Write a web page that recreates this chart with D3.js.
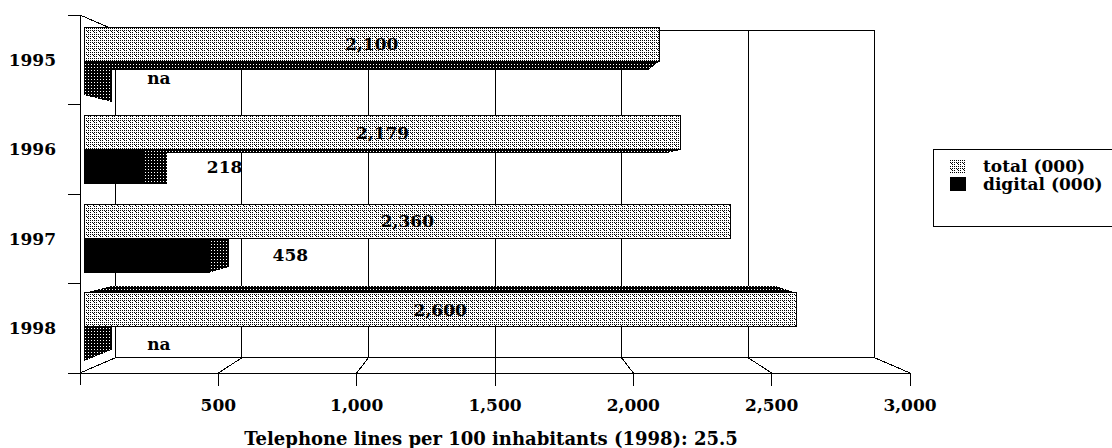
<!DOCTYPE html>
<html><head><meta charset="utf-8">
<script src="https://cdn.jsdelivr.net/npm/d3@7"></script>
<style>
body{margin:0;background:#fff}
svg{display:block}
text{font-family:"DejaVu Serif",serif;font-weight:bold;fill:#000}
</style>
</head><body><svg id="c" width="1112" height="448"></svg>
<script>
const categories = ["1995","1996","1997","1998"];
const totalValues = [2100,2179,2360,2600];
const digitalValues = [null,218,458,null];
const seriesNames = ["total (000)","digital (000)"];
const tickValues = [500,1000,1500,2000,2500,3000];
const tickLabels = ["500","1,000","1,500","2,000","2,500","3,000"];
const axisTitle = "Telephone lines per 100 inhabitants (1998): 25.5";
const naLabel = "na";

const svg = d3.select("#c");
const fmt = d3.format(",");
const FS = 17;
const x = d3.scaleLinear().domain([0,3000]).range([80,910]);
const y = d3.scaleBand().domain(categories).range([15,373]);
const inner = d3.scaleBand().domain(["total","digital"]).range([0,y.bandwidth()]).paddingOuter(0.3);
const cx = (x.range()[0]+x.range()[1])/2, cy = (y.range()[0]+y.range()[1])/2;
const sWall = 0.9145, sFront = 0.99, sBack = 0.924;
const P = (X,Y,s) => [cx+(X-cx)*s, cy+(Y-cy)*s];

// patterns
const defs = svg.append("defs");
const light = defs.append("pattern").attr("id","light").attr("patternUnits","userSpaceOnUse")
  .attr("width",6).attr("height",6);
light.append("rect").attr("width",6).attr("height",6).attr("fill","#fff");
for (let i=0;i<6;i+=2) for (let j=0;j<6;j+=2) {
  if (i===2 && j===2) continue;
  light.append("rect").attr("x",i).attr("y",j).attr("width",1).attr("height",1).attr("fill","#000");
}
light.append("rect").attr("x",3).attr("y",1).attr("width",1).attr("height",1).attr("fill","#000");
const dark = defs.append("pattern").attr("id","dark").attr("patternUnits","userSpaceOnUse")
  .attr("width",3).attr("height",3);
dark.append("rect").attr("width",3).attr("height",3).attr("fill","#000");
dark.append("rect").attr("x",1).attr("y",1).attr("width",1).attr("height",1).attr("fill","#fff");

const g = svg.append("g").attr("shape-rendering","crispEdges");
const line = (a,b,w=1) => g.append("line").attr("x1",a[0]).attr("y1",a[1]).attr("x2",b[0]).attr("y2",b[1])
  .attr("stroke","#000").attr("stroke-width",w);

const X0 = x.range()[0], X1 = x.range()[1], Y0 = y.range()[0], Y1 = y.range()[1];
// back wall
const bTL = P(X0,Y0,sWall), bBR = P(X1,Y1,sWall);
g.append("rect").attr("x",bTL[0]).attr("y",bTL[1]).attr("width",bBR[0]-bTL[0]).attr("height",bBR[1]-bTL[1])
  .attr("fill","#fff").attr("stroke","#000");
tickValues.forEach(t => line(P(x(t),Y0,sWall), P(x(t),Y1,sWall)));
// left wall edges
line([X0,Y0], P(X0,Y0,sWall));
line([X0,Y1], P(X0,Y1,sWall));
// floor connectors
tickValues.forEach(t => line([x(t),Y1], P(x(t),Y1,sWall)));

// axes
line([X0,Y0],[X0,Y1+12]);
line([X0-12,Y1],[X1,Y1]);
categories.forEach(c => line([X0-12,y(c)],[X0,y(c)]));
tickValues.forEach(t => line([x(t),Y1],[x(t),Y1+13]));

// bars: build boxes
const boxes = [];
categories.forEach((c,i) => {
  [["total",totalValues[i],"url(#light)"],["digital",digitalValues[i],"#000"]].forEach(([key,v,fill]) => {
    const a = x(0), b = x(v==null?0:v);
    const t = y(c)+inner(key), u = t+inner.bandwidth();
    boxes.push({c,key,v,fill,a,b,t,u});
  });
});
const poly = (pts, fill) => g.append("polygon").attr("points", pts.map(p=>p.join(",")).join(" ")).attr("fill",fill);
// pass 1: side faces
boxes.forEach(({a,b,t,u}) => {
  if (u < cy) poly([P(a,u,sFront),P(b,u,sFront),P(b,u,sBack),P(a,u,sBack)], "url(#dark)");
  if (t > cy) poly([P(a,t,sFront),P(b,t,sFront),P(b,t,sBack),P(a,t,sBack)], "url(#dark)");
  if (b < cx) poly([P(b,t,sFront),P(b,t,sBack),P(b,u,sBack),P(b,u,sFront)], "url(#dark)");
});
// pass 2: front faces
boxes.forEach(bx => {
  const f0 = P(bx.a,bx.t,sFront), f1 = P(bx.b,bx.u,sFront);
  bx.f0 = f0; bx.f1 = f1;
  if (f1[0]-f0[0] > 0.5)
    g.append("rect").attr("x",f0[0]).attr("y",f0[1]).attr("width",f1[0]-f0[0]).attr("height",f1[1]-f0[1])
      .attr("fill",bx.fill).attr("stroke","#000");
});
// labels
boxes.forEach(bx => {
  const cyL = (bx.f0[1]+bx.f1[1])/2;
  if (bx.key === "total")
    svg.append("text").attr("x",(bx.f0[0]+bx.f1[0])/2).attr("y",cyL)
      .attr("text-anchor","middle").attr("dominant-baseline","central").attr("font-size",FS)
      .text(fmt(bx.v));
  else
    svg.append("text").attr("x",bx.f1[0]+63).attr("y",cyL)
      .attr("text-anchor","start").attr("dominant-baseline","central").attr("font-size",FS)
      .text(bx.v==null?naLabel:fmt(bx.v));
});

// category labels
categories.forEach(c => svg.append("text").attr("x",56).attr("y",y(c)+y.bandwidth()/2)
  .attr("text-anchor","end").attr("dominant-baseline","central").attr("font-size",FS).text(c));
// tick labels
tickValues.forEach((t,i) => svg.append("text").attr("x",x(t)).attr("y",405)
  .attr("text-anchor","middle").attr("dominant-baseline","central").attr("font-size",FS).text(tickLabels[i]));
// axis title
svg.append("text").attr("x",491).attr("y",438).attr("text-anchor","middle")
  .attr("dominant-baseline","central").attr("font-size",18).text(axisTitle);

// legend
const lg = svg.append("g");
lg.append("rect").attr("x",933.5).attr("y",149.5).attr("width",200).attr("height",77)
  .attr("fill","#fff").attr("stroke","#000").attr("shape-rendering","crispEdges");
lg.append("rect").attr("x",950).attr("y",160).attr("width",15).attr("height",13).attr("fill","url(#light)").attr("shape-rendering","crispEdges");
lg.append("rect").attr("x",950).attr("y",177).attr("width",16).attr("height",14).attr("fill","#000").attr("shape-rendering","crispEdges");
seriesNames.forEach((s,i) => lg.append("text").attr("x",983).attr("y",166+i*18)
  .attr("dominant-baseline","central").attr("font-size",FS).text(s));
</script></body></html>
